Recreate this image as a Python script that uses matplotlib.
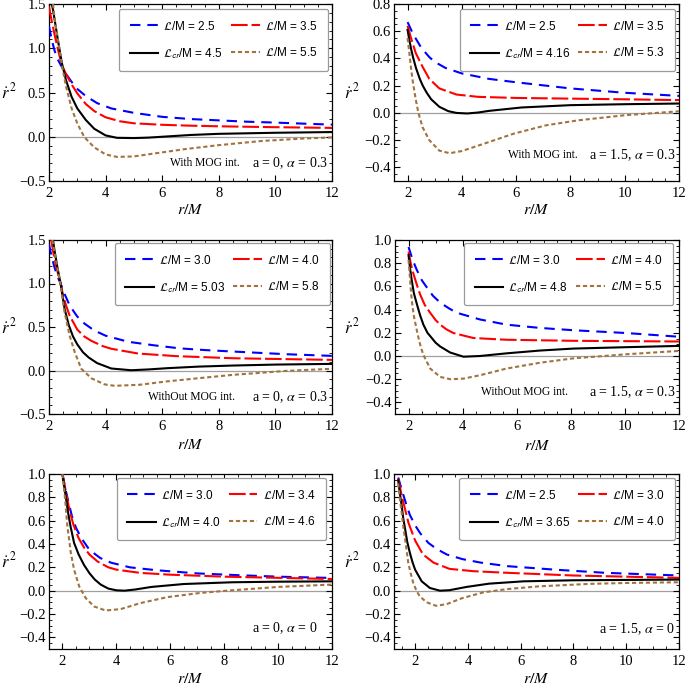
import matplotlib
matplotlib.use('Agg')
import matplotlib.pyplot as plt
from matplotlib.ticker import MultipleLocator, FuncFormatter

plt.rcParams['font.family'] = 'serif'
plt.rcParams['font.serif'] = ['Liberation Serif', 'DejaVu Serif']
plt.rcParams['mathtext.fontset'] = 'stix'
plt.rcParams['lines.scale_dashes'] = False

# ---------------- data ----------------
# Panel 1: With MOG int., a = 0, alpha = 0.3
p1_labels = ['2.5', '3.5', '4.5', '5.5']
p1_r_b = [2.0, 2.1, 2.2, 2.3, 2.45, 2.6, 2.8, 3.0, 3.3, 3.7, 4.2, 5.0, 6.0, 7.0, 8.0, 9.0, 10.0, 11.0, 12.0]
p1_v_b = [1.25, 1.09, 0.97, 0.88, 0.79, 0.71, 0.62, 0.54, 0.46, 0.38, 0.32, 0.27, 0.225, 0.20, 0.185, 0.17, 0.16, 0.148, 0.137]
p1_r_r = [2.0, 2.1, 2.2, 2.3, 2.45, 2.6, 2.8, 3.0, 3.3, 3.6, 4.0, 4.5, 5.0, 6.0, 7.0, 8.0, 10.0, 12.0]
p1_v_r = [1.47, 1.30, 1.15, 1.01, 0.81, 0.71, 0.59, 0.49, 0.37, 0.29, 0.22, 0.175, 0.152, 0.135, 0.125, 0.118, 0.108, 0.10]
p1_r_k = [2.1, 2.15, 2.2, 2.3, 2.45, 2.6, 2.8, 3.0, 3.3, 3.6, 4.0, 4.4, 5.0, 5.5, 6.0, 7.0, 8.0, 10.0, 12.0]
p1_v_k = [1.5, 1.42, 1.32, 1.12, 0.84, 0.64, 0.45, 0.32, 0.19, 0.09, 0.015, -0.012, -0.015, -0.01, 0.0, 0.02, 0.033, 0.045, 0.053]
p1_r_n = [2.14, 2.2, 2.3, 2.45, 2.6, 2.8, 3.0, 3.25, 3.6, 4.0, 4.4, 5.0, 5.7, 6.8, 8.0, 9.5, 11.0, 12.0]
p1_v_n = [1.5, 1.33, 1.13, 0.82, 0.57, 0.32, 0.15, -0.005, -0.12, -0.2, -0.228, -0.222, -0.19, -0.14, -0.095, -0.048, -0.02, -0.008]

# Panel 2: With MOG int., a = 1.5, alpha = 0.3
p2_labels = ['2.5', '3.5', '4.16', '5.3']
p2_r_b = [2.0, 2.2, 2.5, 2.8, 3.0, 3.4, 4.0, 5.0, 6.0, 8.0, 10.0, 12.0]
p2_v_b = [0.667, 0.58, 0.48, 0.41, 0.375, 0.33, 0.29, 0.25, 0.225, 0.18, 0.148, 0.125]
p2_r_r = [2.0, 2.12, 2.3, 2.55, 2.8, 3.17, 3.8, 4.6, 6.0, 8.0, 10.0, 12.0]
p2_v_r = [0.64, 0.555, 0.44, 0.34, 0.25, 0.18, 0.135, 0.118, 0.11, 0.105, 0.10, 0.094]
p2_r_k = [2.0, 2.06, 2.13, 2.2, 2.31, 2.45, 2.56, 2.7, 2.87, 3.17, 3.5, 3.8, 4.2, 4.6, 5.0, 6.2, 8.0, 10.0, 12.0]
p2_v_k = [0.61, 0.54, 0.47, 0.41, 0.33, 0.25, 0.20, 0.15, 0.10, 0.045, 0.013, 0.0, -0.004, 0.003, 0.015, 0.04, 0.057, 0.064, 0.069]
p2_r_n = [2.0, 2.06, 2.12, 2.2, 2.3, 2.4, 2.55, 2.8, 3.17, 3.55, 4.0, 4.8, 5.9, 7.1, 8.3, 10.0, 12.0]
p2_v_n = [0.55, 0.45, 0.34, 0.22, 0.10, 0.0, -0.104, -0.2, -0.277, -0.296, -0.28, -0.227, -0.153, -0.091, -0.054, -0.017, 0.012]

# Panel 3: WithOut MOG int., a = 0, alpha = 0.3
p3_labels = ['3.0', '4.0', '5.03', '5.8']
p3_r_b = [2.0, 2.1, 2.2, 2.3, 2.41, 2.55, 2.7, 2.85, 3.0, 3.25, 3.6, 4.0, 4.8, 5.7, 6.6, 7.5, 8.5, 10.4, 12.0]
p3_v_b = [1.45, 1.30, 1.18, 1.08, 1.0, 0.88, 0.77, 0.69, 0.62, 0.54, 0.46, 0.40, 0.33, 0.29, 0.255, 0.235, 0.218, 0.187, 0.168]
p3_r_r = [2.08, 2.15, 2.25, 2.33, 2.41, 2.5, 2.6, 2.73, 3.0, 3.25, 3.5, 3.9, 4.2, 5.15, 6.5, 8.5, 10.5, 12.0]
p3_v_r = [1.5, 1.36, 1.20, 1.10, 1.0, 0.86, 0.75, 0.63, 0.47, 0.39, 0.34, 0.28, 0.25, 0.195, 0.165, 0.141, 0.13, 0.122]
p3_r_k = [2.14, 2.2, 2.3, 2.41, 2.55, 2.7, 2.85, 3.0, 3.2, 3.4, 3.7, 4.2, 4.9, 5.5, 6.2, 7.3, 8.5, 10.0, 12.0]
p3_v_k = [1.5, 1.37, 1.18, 1.0, 0.71, 0.52, 0.39, 0.30, 0.21, 0.15, 0.085, 0.023, 0.003, 0.012, 0.027, 0.045, 0.057, 0.068, 0.076]
p3_r_n = [2.12, 2.2, 2.3, 2.41, 2.55, 2.73, 2.91, 3.14, 3.5, 3.97, 4.32, 5.2, 6.15, 7.3, 8.5, 10.4, 12.0]
p3_v_n = [1.5, 1.35, 1.17, 0.98, 0.67, 0.40, 0.21, 0.02, -0.09, -0.16, -0.176, -0.164, -0.126, -0.088, -0.05, -0.004, 0.02]

# Panel 4: WithOut MOG int., a = 1.5, alpha = 0.3
p4_labels = ['3.0', '4.0', '4.8', '5.5']
p4_r_b = [2.0, 2.15, 2.31, 2.5, 2.68, 2.9, 3.17, 3.5, 3.78, 4.64, 5.63, 6.86, 8.1, 10.05, 12.0]
p4_v_b = [0.94, 0.83, 0.74, 0.65, 0.59, 0.52, 0.46, 0.41, 0.373, 0.315, 0.27, 0.242, 0.222, 0.198, 0.166]
p4_r_r = [2.0, 2.08, 2.18, 2.3, 2.43, 2.6, 2.8, 3.0, 3.17, 3.4, 3.66, 4.4, 5.63, 8.1, 10.0, 12.0]
p4_v_r = [0.90, 0.80, 0.71, 0.62, 0.53, 0.44, 0.373, 0.31, 0.27, 0.23, 0.198, 0.155, 0.14, 0.131, 0.128, 0.125]
p4_r_k = [2.0, 2.06, 2.12, 2.2, 2.31, 2.43, 2.55, 2.7, 2.86, 3.0, 3.17, 3.54, 4.03, 4.64, 5.63, 6.86, 8.1, 10.05, 12.0]
p4_v_k = [0.87, 0.75, 0.65, 0.54, 0.446, 0.35, 0.27, 0.20, 0.155, 0.115, 0.082, 0.03, -0.006, 0.0, 0.023, 0.047, 0.064, 0.076, 0.087]
p4_r_n = [2.0, 2.05, 2.1, 2.15, 2.21, 2.29, 2.37, 2.45, 2.55, 2.8, 3.17, 3.54, 4.03, 4.64, 5.63, 6.86, 8.1, 10.05, 12.0]
p4_v_n = [0.83, 0.68, 0.53, 0.42, 0.33, 0.24, 0.155, 0.08, 0.009, -0.108, -0.18, -0.2, -0.195, -0.166, -0.108, -0.058, -0.02, 0.015, 0.044]

# Panel 5: a = 0, alpha = 0
p5_labels = ['3.0', '3.4', '4.0', '4.6']
p5_r_b = [2.0, 2.1, 2.2, 2.35, 2.5, 2.7, 3.0, 3.4, 3.8, 4.5, 5.5, 7.0, 8.5, 10.0, 12.0]
p5_v_b = [1.0, 0.88, 0.78, 0.64, 0.54, 0.45, 0.35, 0.28, 0.24, 0.20, 0.175, 0.148, 0.133, 0.12, 0.109]
p5_r_r = [2.0, 2.1, 2.25, 2.4, 2.6, 2.8, 3.0, 3.3, 3.7, 4.0, 4.9, 6.0, 8.0, 10.0, 12.0]
p5_v_r = [1.0, 0.88, 0.70, 0.57, 0.45, 0.37, 0.31, 0.25, 0.20, 0.18, 0.152, 0.137, 0.12, 0.11, 0.10]
p5_r_k = [2.0, 2.06, 2.12, 2.2, 2.3, 2.43, 2.6, 2.8, 3.0, 3.2, 3.42, 3.7, 4.0, 4.3, 4.7, 5.3, 6.5, 8.3, 10.0, 12.0]
p5_v_k = [1.0, 0.9, 0.81, 0.68, 0.55, 0.41, 0.31, 0.22, 0.15, 0.095, 0.052, 0.018, 0.003, 0.0, 0.01, 0.032, 0.057, 0.072, 0.077, 0.08]
p5_r_n = [2.0, 2.05, 2.1, 2.18, 2.31, 2.43, 2.62, 2.86, 3.17, 3.6, 4.16, 4.9, 5.9, 7.1, 8.1, 10.0, 12.0]
p5_v_n = [1.0, 0.89, 0.78, 0.555, 0.325, 0.18, 0.037, -0.063, -0.135, -0.17, -0.158, -0.106, -0.055, -0.02, 0.0, 0.032, 0.052]

# Panel 6: a = 1.5, alpha = 0
p6_labels = ['2.5', '3.0', '3.65', '4.0']
p6_r_b = [1.36, 1.5, 1.65, 1.8, 2.0, 2.2, 2.5, 2.8, 3.2, 3.8, 4.5, 5.5, 7.3, 9.2, 12.0]
p6_v_b = [0.97, 0.86, 0.75, 0.65, 0.56, 0.49, 0.41, 0.36, 0.31, 0.27, 0.24, 0.21, 0.18, 0.153, 0.13]
p6_r_r = [1.36, 1.45, 1.55, 1.65, 1.75, 2.0, 2.3, 2.7, 3.3, 4.2, 5.5, 8.0, 10.0, 12.0]
p6_v_r = [0.96, 0.86, 0.76, 0.67, 0.58, 0.43, 0.31, 0.24, 0.187, 0.167, 0.153, 0.13, 0.12, 0.11]
p6_r_k = [1.36, 1.42, 1.49, 1.55, 1.62, 1.7, 1.8, 1.9, 2.0, 2.25, 2.56, 2.94, 3.3, 3.95, 4.8, 6.1, 8.0, 10.0, 12.0]
p6_v_k = [0.945, 0.84, 0.73, 0.62, 0.53, 0.42, 0.326, 0.245, 0.18, 0.08, 0.023, 0.0, 0.004, 0.032, 0.06, 0.08, 0.089, 0.092, 0.095]
p6_r_n = [1.36, 1.42, 1.49, 1.55, 1.62, 1.68, 1.74, 1.83, 1.93, 2.05, 2.18, 2.44, 2.8, 3.2, 3.8, 4.6, 5.5, 6.7, 8.6, 10.0, 12.0]
p6_v_n = [0.92, 0.79, 0.67, 0.55, 0.44, 0.34, 0.24, 0.15, 0.066, 0.0, -0.05, -0.10, -0.13, -0.115, -0.063, -0.014, 0.014, 0.037, 0.058, 0.066, 0.072]

p_texts_with = ['With MOG int.', 'With MOG int.', 'WithOut MOG int.', 'WithOut MOG int.', None, None]
p_texts_a = [r'a = 0, $\alpha$ = 0.3', r'a = 1.5, $\alpha$ = 0.3', r'a = 0, $\alpha$ = 0.3',
             r'a = 1.5, $\alpha$ = 0.3', r'a = 0, $\alpha$ = 0', r'a = 1.5, $\alpha$ = 0']
p_xlim = [(2, 12), (1.5, 12), (2, 12), (1.5, 12), (1.5, 12), (1.2, 12)]
p_ylim = [(-0.5, 1.5), (-0.5, 0.8), (-0.5, 1.5), (-0.5, 1.0), (-0.5, 1.0), (-0.5, 1.0)]
p_ymajor = [0.5, 0.2, 0.5, 0.2, 0.2, 0.2]

panels = [
    (p1_labels, [(p1_r_b, p1_v_b), (p1_r_r, p1_v_r), (p1_r_k, p1_v_k), (p1_r_n, p1_v_n)]),
    (p2_labels, [(p2_r_b, p2_v_b), (p2_r_r, p2_v_r), (p2_r_k, p2_v_k), (p2_r_n, p2_v_n)]),
    (p3_labels, [(p3_r_b, p3_v_b), (p3_r_r, p3_v_r), (p3_r_k, p3_v_k), (p3_r_n, p3_v_n)]),
    (p4_labels, [(p4_r_b, p4_v_b), (p4_r_r, p4_v_r), (p4_r_k, p4_v_k), (p4_r_n, p4_v_n)]),
    (p5_labels, [(p5_r_b, p5_v_b), (p5_r_r, p5_v_r), (p5_r_k, p5_v_k), (p5_r_n, p5_v_n)]),
    (p6_labels, [(p6_r_b, p6_v_b), (p6_r_r, p6_v_r), (p6_r_k, p6_v_k), (p6_r_n, p6_v_n)]),
]

# ---------------- styles / layout ----------------
styles = [
    dict(color='#0000FF', dashes=(7.5, 5.0)),
    dict(color='#FF0000', dashes=(12.0, 2.8)),
    dict(color='black', dashes=()),
    dict(color='#A0733F', dashes=(3.0, 2.0)),
]
# axes boxes in pixels: x1, y1(top), x2, y2(bottom)
boxes = [(49, 4, 332, 181), (394, 4, 679, 181),
         (49, 240, 332, 414), (395, 240, 679, 414),
         (49, 474, 332, 649), (394, 474, 679, 649)]
legend_tr = [(328, 9), (675, 9), (330, 243), (673, 243), (326, 478), (675, 478)]
text_pos = [(328, 240, 163), (675, 578, 155), (328, 235, 397), (675, 568, 392), (318, None, 628), (675, None, 629)]
xlabel_y = [210, 210, 445, 446, 679, 679]

W, H = 685, 686
fig = plt.figure(figsize=(W / 100, H / 100), dpi=100)


def fx(x):
    return x / W


def fy(y):
    return 1 - y / H


fmt = FuncFormatter(lambda v, p: ('%.1f' % v).replace('-', '\u2212'))

for i, (labels, series) in enumerate(panels):
    x1, y1, x2, y2 = boxes[i]
    ax = fig.add_axes([fx(x1), fy(y2), (x2 - x1) / W, (y2 - y1) / H])
    ax.axhline(0, color='#A0A0A0', lw=0.9, zorder=1)
    handles = []
    for j, (r, v) in enumerate(series):
        st = styles[j]
        if j == 2:
            lab = r'$\mathcal{L}_{\mathsf{cr}}$/M = ' + labels[j]
        else:
            lab = r'$\mathcal{L}$/M = ' + labels[j]
        ln, = ax.plot(r, v, color=st['color'], lw=1.5, label=lab, zorder=3)
        if st['dashes']:
            ln.set_dashes(st['dashes'])
        handles.append(ln)
    ax.set_xlim(*p_xlim[i])
    ax.set_ylim(*p_ylim[i])
    ax.xaxis.set_major_locator(MultipleLocator(2))
    ax.xaxis.set_minor_locator(MultipleLocator(0.5))
    ax.yaxis.set_major_locator(MultipleLocator(p_ymajor[i]))
    ax.yaxis.set_minor_locator(MultipleLocator(p_ymajor[i] / (5 if p_ymajor[i] == 0.5 else 4)))
    ax.yaxis.set_major_formatter(fmt)
    ax.tick_params(which='both', direction='in', top=True, right=True, labelsize=10.5)
    ax.tick_params(which='major', length=4, width=0.8)
    ax.tick_params(which='minor', length=2, width=0.6)
    ax.tick_params(axis='y', pad=2)
    ax.tick_params(axis='x', pad=4)
    for s in ax.spines.values():
        s.set_linewidth(0.9)

    # legend filled row by row: (blue, red) / (black, brown)
    order = [0, 2, 1, 3]
    lx, ly = legend_tr[i]
    ax.legend(handles=[handles[k] for k in order], ncol=2, loc='upper right',
              bbox_to_anchor=((lx - x1) / (x2 - x1), (y2 - ly) / (y2 - y1)),
              prop={'family': 'Liberation Sans', 'size': 8.5},
              handlelength=2.4, handletextpad=0.45, columnspacing=0.7,
              labelspacing=1.15, borderpad=0.9, borderaxespad=0.0,
              fancybox=True, framealpha=1, edgecolor='#9A9A9A')
    leg = ax.get_legend()
    leg.get_frame().set_linewidth(0.9)

    ar, wr, ty = text_pos[i]
    fig.text(fx(ar), fy(ty), p_texts_a[i], ha='right', va='center', fontsize=10)
    if p_texts_with[i]:
        fig.text(fx(wr), fy(ty), p_texts_with[i], ha='right', va='center', fontsize=8.3)

    fig.text(fx((x1 + x2) / 2), fy(xlabel_y[i]), r'$r/M$', ha='center', va='center', fontsize=11.5)
    ylx = 9 if x1 < 100 else 352
    fig.text(fx(ylx), fy((y1 + y2) / 2), r'$\dot{r}^{\,2}$', ha='center', va='center', fontsize=12)

fig.savefig('out.png', dpi=100)
